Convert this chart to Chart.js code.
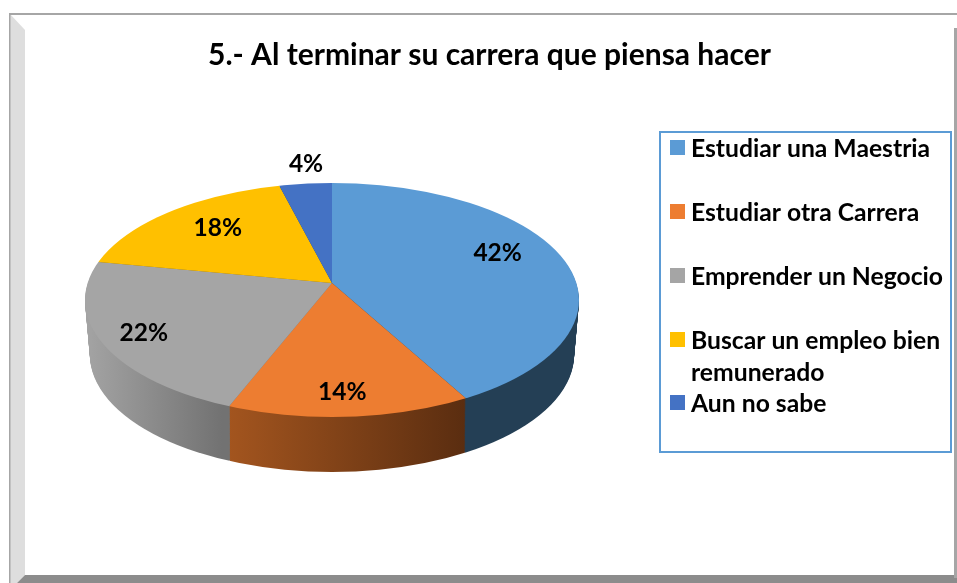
<!DOCTYPE html>
<html>
<head>
<meta charset="utf-8">
<script src="https://cdn.jsdelivr.net/npm/chart.js@4/dist/chart.umd.min.js"></script>
<style>
  html, body { margin: 0; padding: 0; background: #fff; }
  canvas { display: block; }
</style>
</head>
<body>
<canvas id="chart__pie-canvas" width="957" height="583"></canvas>
<script>
const categories = [
  "Estudiar una Maestria",
  "Estudiar otra Carrera",
  "Emprender un Negocio",
  "Buscar un empleo bien remunerado",
  "Aun no sabe",
];
const percents = [42, 14, 22, 18, 4];
const topColors = ["#5b9bd5", "#ed7d31", "#a5a5a5", "#ffc000", "#4472c4"];
const sideFrom = ["#243f55", "#a5561f", "#a3a3a3", "#8a6800", "#253f6e"];
const sideTo = ["#243f55", "#5a2d10", "#727272", "#8a6800", "#253f6e"];
const titleText = "5.- Al terminar su carrera que piensa hacer";

// where the label sits along the middle of its slice, plus a small nudge
const labelRadius = [170, 228, 216, 158, 255];
const labelNudgeX = [1, -4, 1, 1, 6];
const labelNudgeY = [-10, 1, 1, -4, 1];

// the fake 3d pie: apex is above the middle of the ellipse, like in Excel
const apexX = 332;
const apexY = 283;
const squash = 0.474;
const ellipseY = 300;
const ellipseRx = 247;
const ellipseRy = 117;
const depth = 55;
const pieRadius = 300;

function drawFrame(ctx) {
  ctx.fillStyle = "#fff";
  ctx.fillRect(0, 0, 957, 583);
  ctx.fillStyle = "#dedede";
  ctx.beginPath();
  ctx.moveTo(10, 14);
  ctx.lineTo(25, 30);
  ctx.lineTo(25, 575);
  ctx.lineTo(17, 583);
  ctx.lineTo(10, 583);
  ctx.fill();
  ctx.fillStyle = "#8c8c8c";
  ctx.beginPath();
  ctx.moveTo(25, 575);
  ctx.lineTo(957, 575);
  ctx.lineTo(957, 583);
  ctx.lineTo(17, 583);
  ctx.fill();
  ctx.fillStyle = "#a6a6a6";
  ctx.fillRect(9, 13, 948, 2);
  ctx.fillRect(9, 13, 1.5, 570);
  ctx.fillRect(954, 28, 3, 550);
}

// one copy of the pie, through the library's own arc elements
function drawPie(chart, ctx, offset, colorFor) {
  const arcs = chart.getDatasetMeta(0).data;
  const shrink = 1 - (0.02 * offset) / depth;
  const k = pieRadius / arcs[0].outerRadius;
  ctx.save();
  ctx.beginPath();
  ctx.ellipse(apexX, ellipseY + offset, ellipseRx * shrink, ellipseRy, 0, 0, Math.PI * 2);
  ctx.clip();
  ctx.translate(apexX, apexY + offset);
  ctx.scale(k * shrink, k * shrink * squash);
  ctx.translate(-arcs[0].x, -arcs[0].y);
  arcs.forEach((arc, i) => {
    const saved = arc.options;
    arc.options = { ...saved, backgroundColor: colorFor(i, arc, k * shrink) };
    arc.draw(ctx);
    arc.options = saved;
  });
  ctx.restore();
}

function drawLabels(chart, ctx) {
  ctx.save();
  ctx.fillStyle = "#000";
  ctx.font = "bold 24.5px Lato";
  ctx.textAlign = "center";
  ctx.textBaseline = "middle";
  chart.getDatasetMeta(0).data.forEach((arc, i) => {
    const mid = (arc.startAngle + arc.endAngle) / 2;
    const x = apexX + Math.cos(mid) * labelRadius[i] + labelNudgeX[i];
    const y = apexY + Math.sin(mid) * labelRadius[i] * squash + labelNudgeY[i];
    ctx.fillText(percents[i] + "%", x, y);
  });
  ctx.restore();
}

function drawLegend(ctx) {
  ctx.save();
  ctx.strokeStyle = "#5b9bd5";
  ctx.lineWidth = 2;
  ctx.strokeRect(660, 132, 291, 320);
  ctx.font = "bold 24.7px Lato";
  ctx.textBaseline = "middle";
  categories.forEach((name, i) => {
    const y = 148 + 64 * i - (i === 4 ? 1 : 0);
    ctx.fillStyle = topColors[i];
    ctx.fillRect(670, y - 8, 15, 15);
    ctx.fillStyle = "#000";
    // long names wrap on to a second row inside the box
    let line = "";
    let row = 0;
    name.split(" ").forEach((w) => {
      const next = line ? line + " " + w : w;
      if (ctx.measureText(next).width > 256) {
        ctx.fillText(line, 691, y + 1 + row * 32);
        line = w;
        row++;
      } else {
        line = next;
      }
    });
    ctx.fillText(line, 691, y + 1 + row * 32);
  });
  ctx.restore();
}

const pie3d = {
  id: "pie3d",
  beforeDraw(chart) {
    drawFrame(chart.ctx);
  },
  beforeDatasetsDraw(chart) {
    const ctx = chart.ctx;
    // side edges of the visible slices, gradient runs across the screen
    const edges = [[466, 572], [222, 466], [88, 222], [88, 300], [286, 332]];
    for (let d = depth; d > 0; d--) {
      drawPie(chart, ctx, d, (i, arc, k) => {
        const g = ctx.createLinearGradient(
          arc.x + (edges[i][0] - apexX) / k, 0,
          arc.x + (edges[i][1] - apexX) / k, 0
        );
        g.addColorStop(0, sideFrom[i]);
        g.addColorStop(1, sideTo[i]);
        return g;
      });
    }
    drawPie(chart, ctx, 0, (i) => topColors[i]);
    return false;
  },
  afterDraw(chart) {
    drawLabels(chart, chart.ctx);
    drawLegend(chart.ctx);
  },
};

new Chart(document.getElementById("chart__pie-canvas"), {
  type: "pie",
  data: {
    labels: categories,
    datasets: [
      {
        data: percents,
        backgroundColor: topColors,
        borderWidth: 0,
      },
    ],
  },
  options: {
    responsive: false,
    animation: false,
    layout: { padding: { left: 22, top: 27 } },
    plugins: {
      legend: { display: false },
      tooltip: { enabled: false },
      title: {
        display: true,
        text: titleText,
        color: "#000",
        font: { family: "Lato", size: 30, weight: "bold" },
      },
    },
  },
  plugins: [pie3d],
});
</script>
</body>
</html>
